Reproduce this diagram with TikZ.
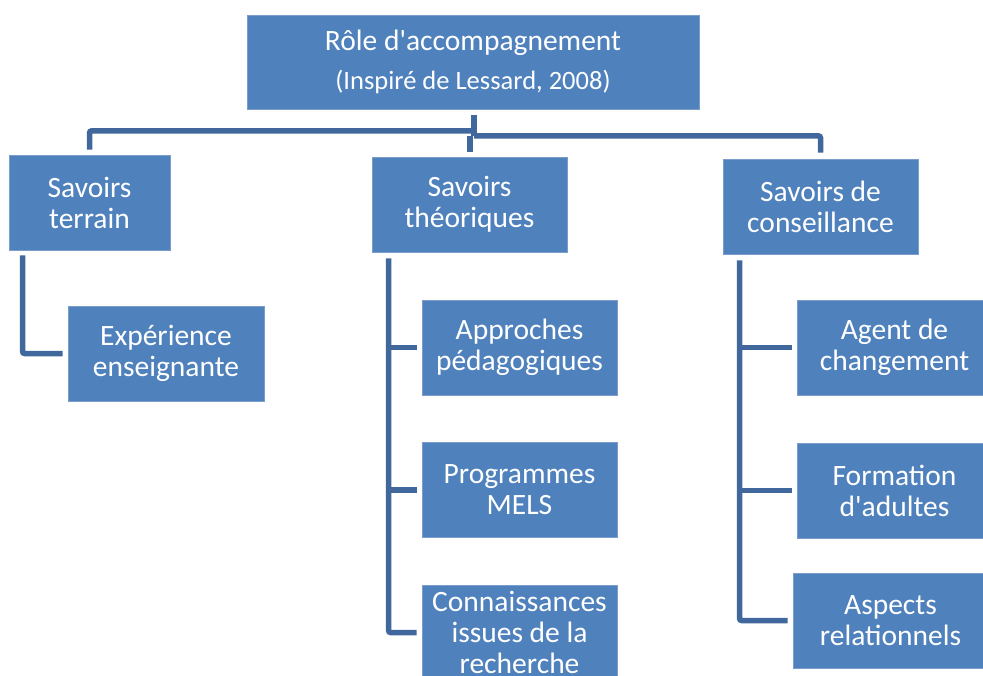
\documentclass[tikz,border=0pt]{standalone}
\usepackage{fontspec}
\setmainfont{Carlito}
\usetikzlibrary{calc}
\definecolor{boxC}{HTML}{4F81BD}
\definecolor{edgeC}{HTML}{7A9DCB}
\definecolor{lineC}{HTML}{41689C}
\begin{document}
\begin{tikzpicture}[x=1pt,y=-1pt,
  box/.style={draw=edgeC, line width=0.8pt, fill=boxC, text=white, align=center,
    inner sep=0pt, minimum width=195pt, minimum height=95pt,
    font=\fontsize{29.5pt}{31pt}\selectfont},
  ln/.style={draw=lineC, line width=5.5pt, rounded corners=2pt}]
\useasboundingbox (0,0) rectangle (983,675);
\clip (0,0) rectangle (983,675);
% boxes
\node[box, minimum width=452pt, minimum height=94pt] (top) at (473,62)
  {\fontsize{29.5pt}{31pt}\selectfont R\^ole d\textquotesingle accompagnement\\[8pt]
   \fontsize{26.5pt}{31pt}\selectfont (Inspir\'e de Lessard, 2008)};
\node[box, minimum width=161pt] (terrain) at (89.5,202.5) {Savoirs\\terrain};
\node[box] (theo) at (469.5,204.5) {Savoirs\\th\'eoriques};
\node[box] (cons) at (820.5,206.5) {Savoirs de\\conseillance};
\node[box, minimum width=196pt] (exp) at (166,353.5) {Exp\'erience\\enseignante};
\node[box] (appr) at (519.5,347.5) {Approches\\p\'edagogiques};
\node[box] (prog) at (519.5,490) {Programmes\\MELS};
\node[box] (conn) at (519.5,632.5) {Connaissances\\issues de la\\recherche};
\node[box] (agent) at (894.5,347.5) {Agent de\\changement};
\node[box] (form) at (894.5,490.5) {Formation\\d\textquotesingle adultes};
\node[box] (asp) at (890.5,620.5) {Aspects\\relationnels};
% junctions
\coordinate (jt) at ($(top.south)+(1,6)$);
\coordinate (jl) at ($(top.south)+(1,21.5)$);
\coordinate (jr) at ($(top.south)+(1,26.5)$);
\coordinate (tv) at ($(theo.south west)+(17,6)$);
\coordinate (cv) at ($(cons.south west)+(17,6)$);
\coordinate (ev) at ($(terrain.south west)+(14,5)$);
% top level connectors
\draw[ln] (jt) -- (jr);
\draw[ln] (jl) -| ($(terrain.north)+(0,-5)$);
\draw[ln] ($(theo.north)+(0.5,-21)$) -- ($(theo.north)+(0.5,-5)$);
\draw[ln] (jr) -| ($(cons.north)+(0,-6)$);
% terrain
\draw[ln] (ev) |- ($(exp.west)+(-5,0)$);
% theoriques
\draw[ln] (tv) |- ($(conn.west)+(-5,0)$);
\draw[ln] (tv |- appr.west) -- ($(appr.west)+(-5,0)$);
\draw[ln] (tv |- prog.west) -- ($(prog.west)+(-5,0)$);
% conseillance
\draw[ln] (cv) |- ($(asp.west)+(-5,0)$);
\draw[ln] (cv |- agent.west) -- ($(agent.west)+(-5,0)$);
\draw[ln] (cv |- form.west) -- ($(form.west)+(-5,0)$);
\end{tikzpicture}
\end{document}
